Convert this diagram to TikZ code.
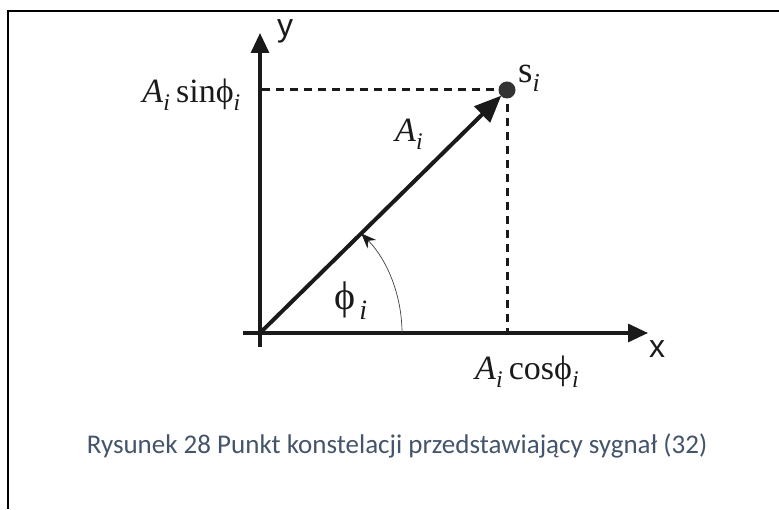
\documentclass[tikz,border=0pt]{standalone}
\usepackage{fontspec}
\setmainfont{Liberation Serif}
\newfontfamily\axisfont{Liberation Sans}
\newfontfamily\capfont{Carlito}
\usetikzlibrary{arrows.meta}
\definecolor{capcol}{HTML}{44546A}
\definecolor{dotcol}{HTML}{333333}
\definecolor{inkcol}{HTML}{1A1A1A}
\tikzset{
  axis/.style={draw=inkcol,line width=3.2pt,-{Triangle[length=20pt,width=18pt]}},
  vec/.style={draw=inkcol,line width=4pt,-{Triangle[length=27pt,width=22pt]}},
  guide/.style={draw=inkcol,line width=3pt,dash pattern=on 8pt off 6pt},
  mlabel/.style={font=\fontsize{34}{38}\selectfont,inner sep=0pt,text=inkcol},
  alabel/.style={font=\axisfont\fontsize{32}{36}\selectfont,inner sep=0pt,text=inkcol},
}
\begin{document}
\begin{tikzpicture}[x=1pt,y=1pt]
\useasboundingbox (0,0) rectangle (779,509);
\draw[line width=2pt] (779,498) -- (7.5,498) -- (7.5,0);
\coordinate (O) at (260,176);
\coordinate (yb) at (260,162);
\coordinate (yt) at (260,476);
\coordinate (xb) at (243,176);
\coordinate (xt) at (648,176);
\coordinate (S) at (507,419);
\coordinate (Sy) at (262,419);
\coordinate (Sx) at (507,176);
\draw[guide] (Sy) -- (S);
\draw[guide] (S) -- (Sx);
\draw[axis] (yb) -- (yt);
\draw[axis] (xb) -- (xt);
\draw[vec,shorten >=8pt] (O) -- (S);
\draw[black!75,line width=0.7pt,-{Stealth[length=15pt,width=12pt,black!90]}] (O) ++(142,0) arc[start angle=0,end angle=44.5,radius=142];
\fill[dotcol] (S) circle (8.5);
\node[alabel,anchor=base west] (ylab) at (277,472) {y};
\node[alabel,anchor=base west] (xlab) at (649,151) {x};
\node[mlabel,anchor=base west,font=\fontsize{37}{40}\selectfont] (slab) at (518,426) {s\textsubscript{\textit{i}}};
\node[mlabel,anchor=base east] (sinlab) at (241,406) {\textit{A}\textsubscript{\textit{i}}\,sin\textup{ϕ}\textsubscript{\textit{i}}};
\node[mlabel,anchor=base west] (alab) at (395,367) {\textit{A}\textsubscript{\textit{i}}};
\node[mlabel,anchor=base west,font=\fontsize{40}{44}\selectfont] (philab) at (334,199) {ϕ\kern4pt\textsubscript{\textit{i}}};
\node[mlabel,anchor=base west] (coslab) at (475,129) {\textit{A}\textsubscript{\textit{i}}\,cosϕ\textsubscript{\textit{i}}};
\node[anchor=base,inner sep=0pt,text=capcol,font=\capfont\fontsize{27}{32}\selectfont] (cap) at (397,56) {Rysunek 28 Punkt konstelacji przedstawiający sygnał (32)};
\end{tikzpicture}
\end{document}
